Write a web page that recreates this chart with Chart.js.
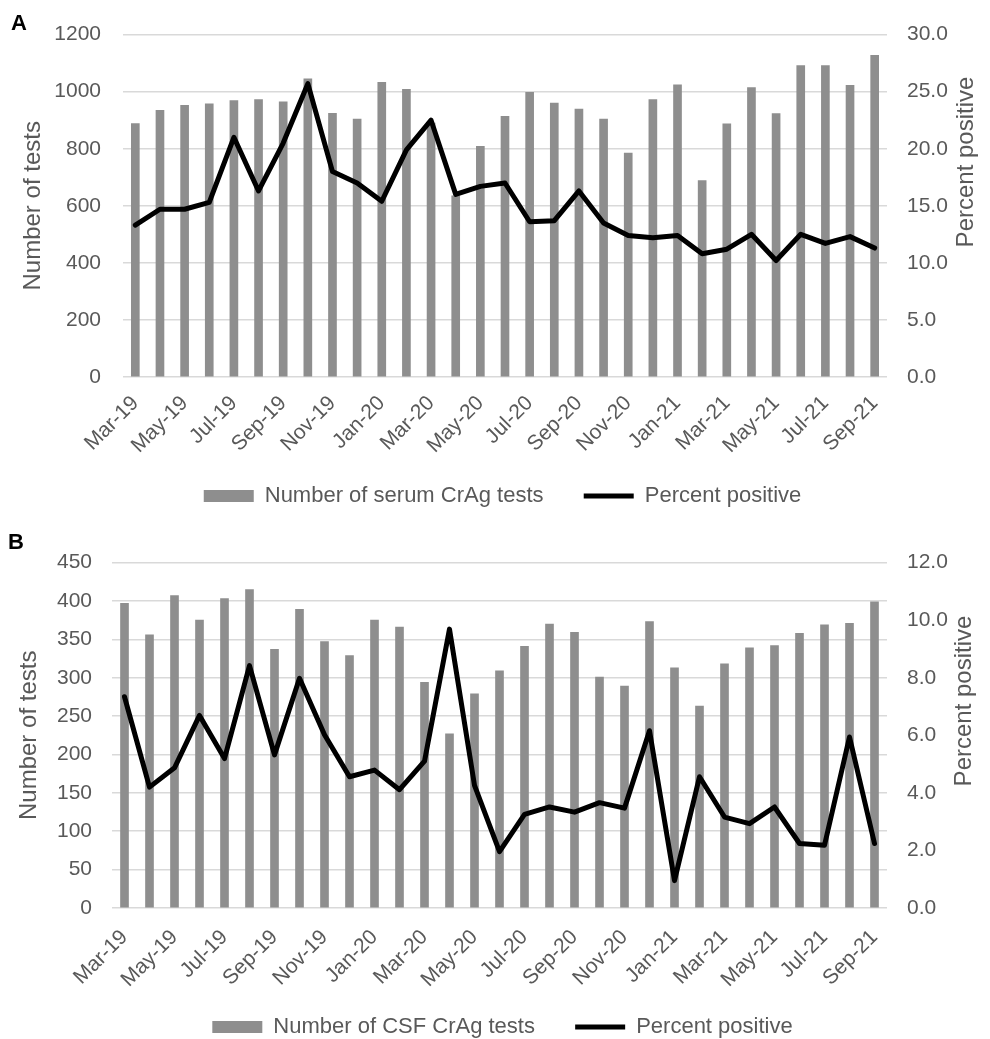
<!DOCTYPE html>
<html><head><meta charset="utf-8">
<script src="https://cdn.jsdelivr.net/npm/chart.js@4/dist/chart.umd.min.js"></script>
<style>
html,body{margin:0;padding:0;background:#fff;overflow:hidden;width:990px;height:1039px;}
.wrap{position:absolute;left:0;width:990px;}
#wa{top:0;height:530px;}
#wb{top:530px;height:520px;}
.lbl{position:absolute;font-family:"Liberation Sans",Arial,sans-serif;font-weight:bold;font-size:22px;line-height:22px;color:#000;}
</style></head><body>
<div class="wrap" id="wa"><canvas id="ca" width="990" height="530"></canvas></div>
<div class="wrap" id="wb"><canvas id="cb" width="990" height="520"></canvas></div>
<div class="lbl" style="left:11px;top:12px">A</div>
<div class="lbl" style="left:8px;top:531px">B</div>
<script>
const months = ['Mar-19','Apr-19','May-19','Jun-19','Jul-19','Aug-19','Sep-19','Oct-19','Nov-19','Dec-19',
  'Jan-20','Feb-20','Mar-20','Apr-20','May-20','Jun-20','Jul-20','Aug-20','Sep-20','Oct-20','Nov-20','Dec-20',
  'Jan-21','Feb-21','Mar-21','Apr-21','May-21','Jun-21','Jul-21','Aug-21','Sep-21'];

const serumTests = [888, 935, 952, 957, 969, 972, 964, 1045, 924, 904, 1033, 1008, 890, 635, 808, 914,
  998, 960, 939, 904, 785, 972, 1024, 688, 887, 1014, 923, 1091, 1091, 1022, 1127];
const serumPct = [13.3, 14.7, 14.7, 15.3, 21.0, 16.3, 20.5, 25.7, 18.0, 17.0, 15.4, 19.9, 22.5, 16.0, 16.7, 17.0,
  13.6, 13.7, 16.3, 13.5, 12.4, 12.2, 12.4, 10.8, 11.2, 12.5, 10.2, 12.5, 11.7, 12.3, 11.3];

const csfTests = [397, 356, 407, 375, 403, 415, 337, 389, 347, 329, 375, 366, 294, 227, 279, 309,
  341, 370, 359, 301, 289, 373, 313, 263, 318, 339, 342, 358, 369, 371, 399];
const csfPct = [7.34, 4.20, 4.87, 6.69, 5.19, 8.42, 5.32, 7.98, 6.02, 4.56, 4.79, 4.11, 5.10, 9.69, 4.26, 1.96,
  3.25, 3.51, 3.33, 3.66, 3.47, 6.16, 0.95, 4.56, 3.16, 2.93, 3.51, 2.24, 2.18, 5.94, 2.24];

const FAMILY = '"Liberation Sans", Arial, sans-serif';
const GRAY = '#8e8e8e';
const TXT = '#595959';
const GRID = '#d9d9d9';
Chart.defaults.font.family = FAMILY;

function rightTitle(text, x, y) {
  return {
    id: 'rightTitle',
    afterDraw(chart) {
      const ctx = chart.ctx;
      ctx.save();
      ctx.translate(x, y);
      ctx.rotate(-Math.PI / 2);
      ctx.font = '24px ' + FAMILY;
      ctx.fillStyle = TXT;
      ctx.textAlign = 'center';
      ctx.textBaseline = 'middle';
      ctx.fillText(text, 0, 0);
      ctx.restore();
    }
  };
}

function makeChart(id, o) {
  return new Chart(document.getElementById(id), {
    type: 'bar',
    data: {
      labels: months,
      datasets: [
        { type: 'bar', label: o.barLabel, data: o.bars, backgroundColor: GRAY, barThickness: 8,
          yAxisID: 'y', order: 1 },
        { type: 'line', label: 'Percent positive', data: o.pct, borderColor: '#000', backgroundColor: '#000',
          borderWidth: 5, pointRadius: 0, tension: 0, yAxisID: 'y1', order: 0,
          borderJoinStyle: 'round', borderCapStyle: 'round' }
      ]
    },
    options: {
      responsive: false,
      animation: false,
      layout: { padding: { top: o.padTop, left: 15, right: 0, bottom: o.padBottom } },
      plugins: {
        tooltip: { enabled: false },
        legend: {
          position: 'bottom',
          labels: {
            usePointStyle: true, pointStyleWidth: 50, boxHeight: 12, padding: 28,
            color: TXT, font: { size: 22, family: FAMILY },
            generateLabels() {
              return [
                { text: o.barLabel + '  ', fillStyle: GRAY, strokeStyle: GRAY, lineWidth: 0, pointStyle: 'rect',
                  datasetIndex: 0, hidden: false, fontColor: TXT },
                { text: 'Percent positive', fillStyle: '#000', strokeStyle: '#000', lineWidth: 5, lineCap: 'butt',
                  pointStyle: 'line', datasetIndex: 1, hidden: false, fontColor: TXT }
              ];
            }
          }
        }
      },
      scales: {
        x: {
          offset: true,
          grid: { display: false, drawTicks: false },
          border: { display: false },
          ticks: {
            autoSkip: false, minRotation: 45, maxRotation: 45, padding: o.xPad,
            color: TXT, font: { size: 21 },
            callback: (v, i) => (i % 2 === 0 ? months[i] : '')
          },
          afterFit: s => { s.height = 80; }
        },
        y: {
          position: 'left', min: 0, max: o.yMax,
          ticks: { stepSize: o.yStep, padding: o.yPad, color: TXT, font: { size: 21 },
                   callback: v => String(v) },
          grid: { color: GRID, lineWidth: 1.5, drawTicks: false },
          border: { display: false },
          title: { display: true, text: 'Number of tests', color: TXT, font: { size: 24 },
                   padding: { top: o.titlePad, bottom: 0 } },
          afterFit: s => { s.width = o.yWidth; }
        },
        y1: {
          position: 'right', min: 0, max: o.y1Max,
          ticks: { stepSize: o.y1Step, padding: 20, color: TXT, font: { size: 21 },
                   callback: v => Number(v).toFixed(1) },
          grid: { display: false, drawTicks: false },
          border: { display: false },
          afterFit: s => { s.width = 103; }
        }
      }
    },
    plugins: [rightTitle('Percent positive', o.rtX, o.rtY)]
  });
}

makeChart('ca', {
  barLabel: 'Number of serum CrAg tests', bars: serumTests, pct: serumPct,
  padTop: 20, padBottom: 13, xPad: 14,
  yMax: 1200, yStep: 200, yPad: 22, yWidth: 108, titlePad: 3.6,
  y1Max: 30, y1Step: 5, rtX: 966, rtY: 162
});

makeChart('cb', {
  barLabel: 'Number of CSF CrAg tests', bars: csfTests, pct: csfPct,
  padTop: 21, padBottom: 2, xPad: 17,
  yMax: 450, yStep: 50, yPad: 20, yWidth: 97, titlePad: 0,
  y1Max: 12, y1Step: 2, rtX: 964, rtY: 171
});
</script>
</body></html>
